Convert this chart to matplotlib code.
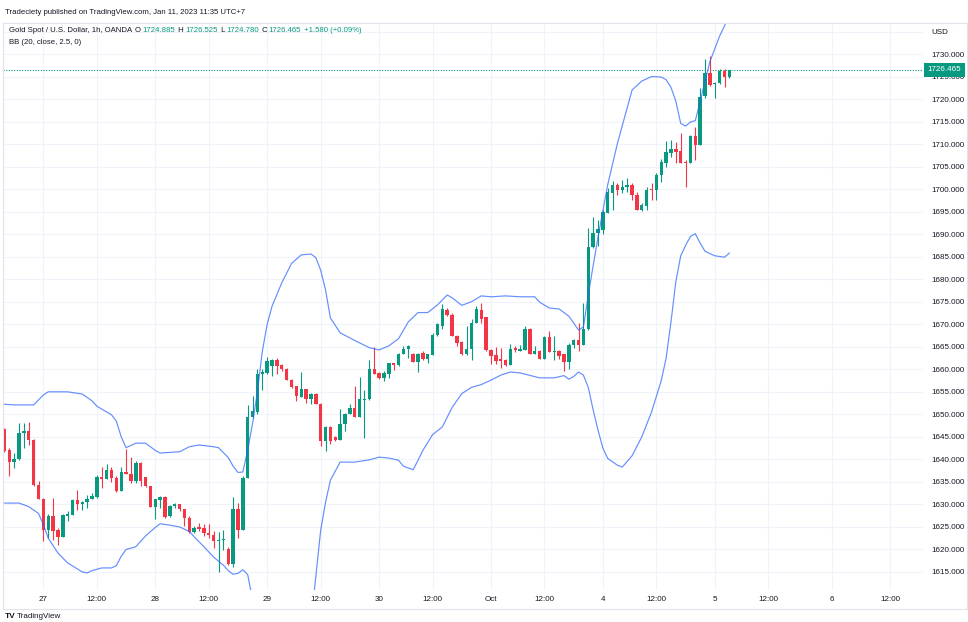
import matplotlib

matplotlib.use("Agg")
import matplotlib.pyplot as plt
from matplotlib.patches import Rectangle
from matplotlib.transforms import blended_transform_factory

# ---------- data (1h bars, XAUUSD, Sep 27 - Oct 5) ----------
OPENS = [
    1646.7, 1642.1, 1639.4, 1640.0, 1645.9, 1646.3, 1644.3, 1634.4, 1631.3, 1624.4,
    1627.4, 1624.4, 1622.8, 1627.4, 1627.6, 1630.9, 1630.0, 1630.6, 1631.3, 1631.6,
    1636.1, 1635.6, 1637.6, 1635.9, 1633.0, 1637.2, 1636.8, 1635.2, 1639.1, 1636.1,
    1634.0, 1629.4, 1631.0, 1631.7, 1627.4, 1629.6, 1630.0, 1628.9, 1627.0, 1623.9,
    1624.9, 1624.7, 1623.7, 1623.3, 1621.9, 1622.0, 1620.2, 1616.7, 1628.9, 1624.4,
    1635.9, 1649.4, 1650.5, 1658.9, 1659.2, 1660.7, 1662.0, 1660.9, 1660.1, 1657.7,
    1656.3, 1653.9, 1655.7, 1653.4, 1654.6, 1652.4, 1644.0, 1647.2, 1645.0, 1644.2,
    1647.9, 1650.0, 1651.4, 1649.4, 1653.1, 1653.3, 1660.0, 1659.1, 1658.1, 1658.9,
    1661.3, 1660.9, 1663.3, 1664.6, 1663.5, 1661.6, 1663.7, 1662.3, 1663.1, 1667.7,
    1669.6, 1673.1, 1672.0, 1667.5, 1666.0, 1663.3, 1664.6, 1670.2, 1673.1, 1671.6,
    1664.2, 1663.1, 1662.2, 1662.0, 1660.9, 1664.8, 1664.1, 1664.2, 1669.0, 1663.5,
    1664.0, 1662.3, 1667.1, 1663.8, 1664.0, 1663.3, 1661.6, 1665.3, 1666.5, 1665.5,
    1668.9, 1687.1, 1690.2, 1690.9, 1694.8, 1699.2, 1700.9, 1699.7, 1700.4, 1700.9,
    1698.7, 1695.4, 1696.3, 1700.0, 1699.7, 1703.1, 1705.9, 1708.1, 1709.0, 1708.5,
    1706.1, 1705.7, 1711.8, 1709.8, 1720.7, 1725.7, 1723.3, 1723.5, 1726.3, 1724.885,
]
HIGHS = [
    1646.9, 1642.6, 1641.5, 1648.0, 1648.0, 1648.4, 1644.5, 1635.3, 1631.5, 1627.8,
    1631.4, 1624.8, 1627.8, 1628.5, 1631.1, 1633.2, 1630.7, 1632.2, 1632.5, 1636.5,
    1638.2, 1638.9, 1638.2, 1636.3, 1638.2, 1642.4, 1640.6, 1639.7, 1639.5, 1636.1,
    1634.1, 1631.3, 1631.9, 1631.9, 1629.8, 1630.4, 1630.2, 1628.9, 1627.4, 1625.2,
    1625.9, 1625.7, 1625.7, 1624.1, 1623.9, 1624.4, 1620.5, 1631.7, 1630.4, 1636.3,
    1652.0, 1654.0, 1660.0, 1660.0, 1662.8, 1662.3, 1662.6, 1661.1, 1660.3, 1657.9,
    1656.3, 1659.4, 1655.7, 1654.8, 1654.8, 1652.6, 1647.5, 1647.5, 1645.1, 1651.1,
    1650.2, 1652.2, 1656.3, 1658.3, 1655.5, 1662.0, 1665.0, 1659.3, 1659.6, 1661.4,
    1661.4, 1663.7, 1665.1, 1665.5, 1663.7, 1663.7, 1664.0, 1663.4, 1668.1, 1670.3,
    1674.4, 1673.7, 1672.6, 1667.7, 1666.2, 1669.6, 1671.1, 1674.0, 1674.8, 1671.7,
    1664.4, 1665.0, 1664.8, 1662.2, 1665.7, 1665.1, 1665.5, 1669.7, 1669.2, 1665.1,
    1664.2, 1667.3, 1668.5, 1667.4, 1664.2, 1663.4, 1665.9, 1666.7, 1670.3, 1674.8,
    1691.3, 1693.9, 1693.1, 1695.4, 1700.2, 1701.7, 1701.4, 1702.0, 1702.5, 1701.3,
    1699.4, 1696.9, 1700.5, 1701.3, 1703.5, 1706.8, 1710.8, 1710.9, 1710.5, 1712.5,
    1706.4, 1712.0, 1713.9, 1722.4, 1729.0, 1729.6, 1723.9, 1726.6, 1726.6, 1726.525,
]
LOWS = [
    1641.7, 1636.3, 1638.1, 1639.8, 1642.6, 1643.1, 1634.2, 1631.1, 1621.9, 1622.6,
    1622.2, 1621.1, 1622.8, 1626.3, 1627.6, 1628.8, 1628.8, 1629.3, 1631.3, 1631.5,
    1633.6, 1635.6, 1635.0, 1632.8, 1633.0, 1636.8, 1634.7, 1634.7, 1634.1, 1633.9,
    1629.4, 1626.7, 1629.3, 1627.0, 1627.2, 1629.3, 1628.5, 1625.3, 1623.7, 1623.6,
    1624.0, 1623.0, 1622.6, 1620.4, 1615.0, 1619.9, 1616.5, 1616.2, 1622.6, 1624.4,
    1635.9, 1649.2, 1650.0, 1655.5, 1658.9, 1658.6, 1658.9, 1659.6, 1657.6, 1655.9,
    1652.9, 1653.9, 1652.6, 1652.2, 1652.2, 1642.9, 1641.8, 1643.5, 1644.0, 1644.2,
    1646.3, 1650.0, 1649.4, 1649.4, 1644.8, 1653.1, 1658.9, 1657.9, 1657.4, 1658.1,
    1659.8, 1660.7, 1663.3, 1662.6, 1661.6, 1659.4, 1662.0, 1661.4, 1663.1, 1667.4,
    1668.9, 1671.8, 1667.4, 1665.1, 1663.1, 1663.1, 1662.0, 1670.2, 1670.3, 1664.0,
    1661.1, 1661.1, 1660.3, 1660.7, 1660.9, 1663.8, 1664.0, 1664.2, 1663.3, 1663.5,
    1662.2, 1662.2, 1663.8, 1662.0, 1662.2, 1659.7, 1660.0, 1664.8, 1664.0, 1665.4,
    1668.8, 1686.9, 1687.3, 1690.0, 1694.6, 1695.4, 1698.7, 1699.1, 1699.4, 1697.6,
    1695.4, 1695.2, 1695.4, 1697.6, 1697.6, 1701.6, 1705.0, 1707.1, 1705.7, 1705.7,
    1700.5, 1705.7, 1706.5, 1709.8, 1720.2, 1722.9, 1720.2, 1723.3, 1722.7, 1724.780,
]
CLOSES = [
    1641.9, 1639.4, 1640.0, 1645.9, 1646.4, 1644.3, 1634.4, 1631.3, 1624.4, 1627.4,
    1624.2, 1622.8, 1627.6, 1627.8, 1631.0, 1630.0, 1630.6, 1631.3, 1631.9, 1636.1,
    1635.6, 1637.6, 1635.8, 1633.0, 1637.3, 1636.8, 1635.1, 1639.1, 1635.2, 1634.0,
    1629.4, 1631.1, 1631.7, 1627.3, 1629.6, 1630.0, 1628.9, 1627.0, 1623.9, 1624.8,
    1624.6, 1623.7, 1623.3, 1621.9, 1622.0, 1622.2, 1616.7, 1628.9, 1624.4, 1635.9,
    1649.3, 1650.7, 1658.9, 1659.4, 1661.8, 1662.0, 1660.7, 1660.0, 1657.7, 1656.1,
    1654.0, 1655.7, 1653.4, 1654.6, 1652.4, 1644.0, 1647.2, 1644.0, 1644.2, 1647.9,
    1650.0, 1651.4, 1649.4, 1653.3, 1653.4, 1660.0, 1658.9, 1658.1, 1659.1, 1661.3,
    1660.9, 1663.3, 1664.6, 1665.1, 1661.6, 1663.3, 1662.2, 1663.3, 1667.7, 1670.0,
    1673.3, 1672.0, 1667.5, 1665.9, 1663.3, 1664.6, 1670.2, 1673.3, 1671.2, 1664.2,
    1662.9, 1661.8, 1661.8, 1660.9, 1664.6, 1664.2, 1664.6, 1669.0, 1663.4, 1664.0,
    1662.3, 1667.1, 1663.8, 1664.0, 1662.9, 1661.6, 1665.5, 1666.5, 1665.5, 1669.0,
    1687.1, 1690.2, 1691.1, 1695.0, 1699.4, 1700.9, 1699.7, 1700.5, 1700.9, 1698.7,
    1695.4, 1696.5, 1699.8, 1699.7, 1703.1, 1706.1, 1708.3, 1709.0, 1708.3, 1705.9,
    1705.7, 1711.8, 1709.8, 1720.5, 1725.7, 1723.1, 1723.6, 1726.3, 1724.8, 1726.465,
]

# Bollinger bands (20, close, 2.5) at bar indices
BB_UP_IDX = [-1, 2, 6, 8, 9, 13, 16, 18, 19, 22, 23, 24, 25, 27, 29, 31, 32, 36, 38, 40,
             43, 44, 46, 47, 48, 49, 50, 51, 52, 53, 54, 55, 57, 59, 61, 63, 64, 65, 66, 67,
             69, 72, 75, 77, 79, 81, 83, 85, 87, 89, 91, 92, 94, 96, 98, 100, 103, 106, 109,
             110, 112, 114, 116, 117, 118, 119, 120, 121, 122, 124, 126, 129, 131, 133, 135,
             136, 137, 138, 139, 140, 141, 142, 143, 144, 145, 147, 149]
BB_UP = [1652.3, 1652.1, 1652.1, 1654.3, 1655.0, 1655.0, 1654.5, 1653.0, 1651.8, 1649.9,
         1648.5, 1645.0, 1642.6, 1643.6, 1643.6, 1642.0, 1641.4, 1641.7, 1642.8, 1643.2,
         1642.8, 1642.6, 1640.4, 1638.5, 1637.1, 1637.2, 1642.1, 1648.0, 1655.0, 1664.0,
         1670.0, 1674.0, 1679.2, 1683.5, 1685.4, 1685.6, 1684.8, 1682.0, 1677.6, 1671.4,
         1668.1, 1666.4, 1664.8, 1664.3, 1665.2, 1666.8, 1670.5, 1672.6, 1672.6, 1674.3,
         1676.5, 1675.9, 1674.2, 1675.0, 1676.3, 1676.1, 1676.3, 1676.1, 1676.1, 1674.9,
         1673.6, 1673.4, 1671.8, 1670.3, 1668.7, 1669.4, 1676.5, 1683.0, 1689.3, 1701.0,
         1710.2, 1722.0, 1724.0, 1725.0, 1724.9, 1724.3, 1722.6, 1719.5, 1714.6, 1714.0,
         1714.9, 1715.2, 1719.5, 1724.0, 1728.3, 1734.0, 1738.5]
BB_LO_IDX = [-1, 3, 5, 7, 8, 9, 11, 13, 16, 17, 18, 20, 22, 23, 24, 25, 27, 29, 31, 32,
             34, 36, 38, 39, 41, 43, 45, 46, 47, 48, 49, 50, 51, 52, 53, 55, 58, 61, 63, 64,
             65, 66, 67, 69, 72, 75, 77, 79, 81, 82, 84, 85, 86, 88, 90, 92, 94, 96, 98, 100,
             102, 104, 106, 110, 113, 115, 116, 117, 118, 119, 120, 121, 122, 123, 124, 126,
             127, 129, 131, 133, 135, 136, 137, 138, 139, 140, 141, 142, 143, 144, 146, 148,
             149]
BB_LO = [1630.3, 1630.3, 1629.5, 1628.0, 1625.5, 1622.5, 1619.2, 1617.0, 1615.0, 1614.8,
         1615.3, 1615.9, 1615.9, 1616.4, 1618.5, 1620.0, 1620.6, 1623.0, 1624.9, 1625.7,
         1625.4, 1625.0, 1624.0, 1622.8, 1620.6, 1618.3, 1616.5, 1615.3, 1614.5, 1614.7,
         1615.5, 1614.4, 1608.8, 1599.5, 1594.0, 1588.0, 1584.0, 1588.0, 1604.0, 1614.0,
         1624.3, 1630.5, 1635.4, 1639.4, 1639.4, 1639.9, 1640.5, 1640.3, 1639.8, 1638.5,
         1637.7, 1639.8, 1642.0, 1645.5, 1647.2, 1651.5, 1654.6, 1656.0, 1656.6, 1657.6,
         1658.7, 1659.4, 1659.2, 1658.1, 1658.1, 1658.6, 1657.8, 1658.4, 1659.4, 1658.7,
         1656.0, 1651.0, 1646.5, 1642.5, 1640.2, 1638.7, 1638.3, 1640.8, 1645.0, 1650.5,
         1657.5, 1662.5, 1670.5, 1679.5, 1685.2, 1687.5, 1689.5, 1690.1, 1688.0, 1686.2,
         1685.2, 1684.9, 1685.8]

# time axis: bar index of each label (23 trading hours a day)
TICK_POS = [8, 19, 31, 42, 54, 65, 77, 88, 100, 111, 123, 134, 146, 157, 170, 182]
TICK_LABELS = ["27", "12:00", "28", "12:00", "29", "12:00", "30", "12:00", "Oct", "12:00",
               "4", "12:00", "5", "12:00", "6", "12:00"]
PRICE_TICKS = list(range(1615, 1736, 5))
CHANGE_TEXT = "+1.580 (+0.09%)"

# ---------- style ----------
UP = "#089981"
DOWN = "#F23645"
BAND = "#2962FF"
TXT = "#131722"
GRID = "#f0f3fa"
plt.rcParams["font.family"] = ["Liberation Sans", "DejaVu Sans"]

W, H = 968, 622
fig = plt.figure(figsize=(W / 100, H / 100), dpi=100)
fig.patch.set_facecolor("white")


def fx(px):
    return px / W


def fy(py):
    return 1 - py / H


ax = fig.add_axes([fx(3), fy(590), fx(923) - fx(3), fy(22.5) - fy(590)])
ax.set_xlim(-0.3, 188.8)
ax.set_ylim(1611.0, 1737.0)
for s in ax.spines.values():
    s.set_visible(False)

# candles
n = len(CLOSES)
xs = list(range(n))
colors = [UP if c >= o else DOWN for o, c in zip(OPENS, CLOSES)]
bottoms = [min(o, c) for o, c in zip(OPENS, CLOSES)]
heights = [max(abs(c - o), 0.22) for o, c in zip(OPENS, CLOSES)]
ax.vlines(xs, LOWS, HIGHS, colors=colors, linewidth=0.8, zorder=3)
ax.bar(xs, heights, bottom=bottoms, width=0.7, color=colors, edgecolor="none", zorder=4)

# bands
ax.plot(BB_UP_IDX, BB_UP, color=BAND, lw=0.85, alpha=0.72, zorder=5)
ax.plot(BB_LO_IDX, BB_LO, color=BAND, lw=0.85, alpha=0.72, zorder=5)

# last price line
last = CLOSES[-1]
ax.axhline(last, color=UP, lw=0.8, ls=(0, (1, 1.4)), zorder=2)

# grid / ticks
ax.set_xticks(TICK_POS)
ax.set_xticklabels(TICK_LABELS, fontsize=5.8, color=TXT)
ax.set_yticks(PRICE_TICKS)
ax.set_yticklabels(["USD" if p == 1735 else f"{p:.3f}" for p in PRICE_TICKS],
                   fontsize=5.8, color=TXT)
ax.yaxis.tick_right()
ax.tick_params(axis="both", length=0)
ax.tick_params(axis="x", pad=4)
ax.tick_params(axis="y", pad=6)
ax.grid(True, color=GRID, lw=0.8, zorder=0)
ax.set_axisbelow(True)

# price label box
tr = blended_transform_factory(fig.transFigure, ax.transData)
ax.text(fx(927.5), last, f"{last:.3f}", transform=tr, fontsize=5.8, color="white",
        ha="left", va="center", zorder=10, clip_on=False,
        bbox=dict(boxstyle="square,pad=0.45", fc=UP, ec="none"))

# outer frame
fig.patches.append(Rectangle((fx(3), fy(609)), fx(967) - fx(3), fy(22.5) - fy(609),
                             transform=fig.transFigure, fill=False, ec="#e0e3eb", lw=0.8))

# header texts
fig.text(fx(5), fy(13), "Tradeciety published on TradingView.com, Jan 11, 2023 11:35 UTC+7",
         fontsize=5.6, color=TXT, va="center")

fig.canvas.draw()
renderer = fig.canvas.get_renderer()
pieces = [
    ("Gold Spot / U.S. Dollar, 1h, OANDA ", TXT),
    ("O", TXT),
    (f"{OPENS[-1]:.3f}", UP),
    (" H", TXT),
    (f"{HIGHS[-1]:.3f}", UP),
    (" L", TXT),
    (f"{LOWS[-1]:.3f}", UP),
    (" C", TXT),
    (f"{CLOSES[-1]:.3f}", UP),
    (" " + CHANGE_TEXT, UP),
]
xpos = 9
for txt, col in pieces:
    t = fig.text(fx(xpos), fy(31), txt, fontsize=5.6, color=col, va="center")
    bb = t.get_window_extent(renderer)
    xpos += bb.width + 1.2
fig.text(fx(9), fy(42), "BB (20, close, 2.5, 0)", fontsize=5.6, color=TXT, va="center")

# footer logo
fig.text(fx(5), fy(617), "TV", fontsize=6, color=TXT, fontweight="bold", va="center")
fig.text(fx(17), fy(617), "TradingView", fontsize=5.8, color=TXT, va="center")

fig.savefig("out.png", dpi=100)
